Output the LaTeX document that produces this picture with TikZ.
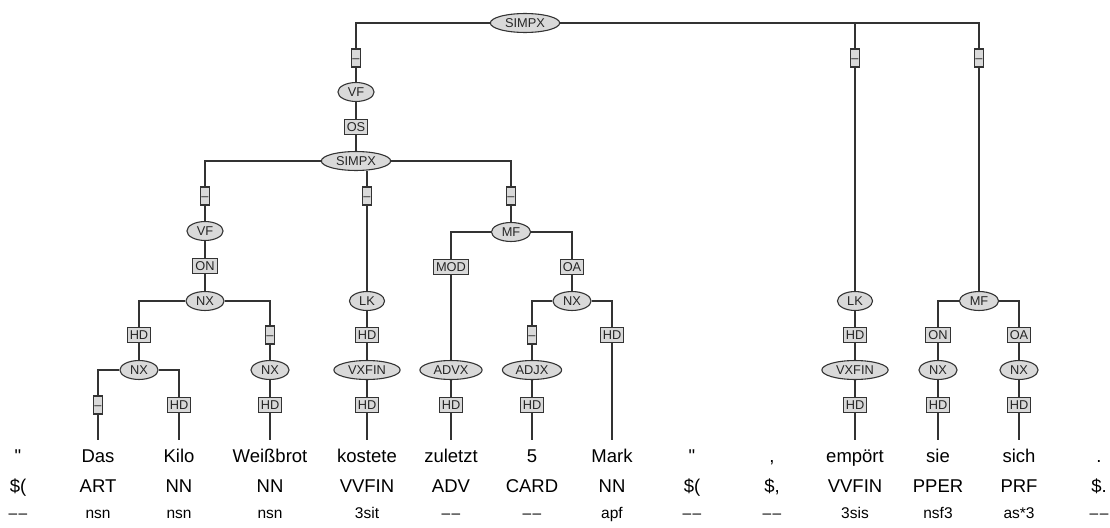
\documentclass[tikz,border=0pt]{standalone}
\usepackage{fontspec}
\setmainfont{Liberation Sans}
\usepackage{xcolor}
\usetikzlibrary{shapes.geometric}

\begin{document}
\begin{tikzpicture}
[x=1pt,y=-1pt,
catg/.style={ellipse,draw=black!80,fill=black!15,line width=1.1pt,inner xsep=4.6pt,inner ysep=2.2pt,minimum width=32pt,text height=9pt,text depth=0pt,font=\fontsize{12.8}{13}\selectfont,text=black!85},
func/.style={rectangle,draw=black!80,fill=black!15,line width=1.1pt,inner xsep=2.6pt,inner ysep=3.4pt,text height=9pt,text depth=0pt,font=\fontsize{12.8}{13}\selectfont,text=black!85},
fnil/.style={func,inner xsep=1.3pt,minimum height=18pt},
word/.style={anchor=base,inner sep=0pt,text height=13.4pt,text depth=4pt,font=\fontsize{18.5}{20}\selectfont},
morf/.style={anchor=base,inner sep=0pt,font=\fontsize{15.5}{16}\selectfont},
tree/.style={draw=black!80,line width=1.1pt},
wtic/.style={tree,shorten >=8.6pt}]

\useasboundingbox (0,0) rectangle (1110,527);

\node at (525,23)  [catg] (simpxa) {SIMPX};
\node at (356,58)  [fnil] (na1)    {\textendash};
\node at (356,92)  [catg] (vfa)    {VF};
\node at (356,127) [func] (osa)    {OS};
\node at (356,161) [catg] (simpxb) {SIMPX};
\node at (855,58)  [fnil] (na2)    {\textendash};
\node at (979,58)  [fnil] (na3)    {\textendash};

\node at (205,196) [fnil] (nb1)    {\textendash};
\node at (205,231) [catg] (vfb)    {VF};
\node at (205,266) [func] (onb)    {ON};
\node at (205,301) [catg] (nxa)    {NX};
\node at (139,335) [func] (hda)    {HD};
\node at (139,370) [catg] (nxb)    {NX};
\node at (98,405)  [fnil] (nc1)    {\textendash};
\node at (179,405) [func] (hdb)    {HD};
\node at (270,335) [fnil] (nc2)    {\textendash};
\node at (270,370) [catg] (nxc)    {NX};
\node at (270,405) [func] (hdc)    {HD};

\node at (367,196) [fnil] (nb2)    {\textendash};
\node at (367,301) [catg] (lka)    {LK};
\node at (367,335) [func] (hdd)    {HD};
\node at (367,370) [catg] (vxfina) {VXFIN};
\node at (367,405) [func] (hde)    {HD};

\node at (511,196) [fnil] (nb3)    {\textendash};
\node at (511,232) [catg] (mfa)    {MF};
\node at (451,267) [func] (moda)   {MOD};
\node at (451,370) [catg] (advxa)  {ADVX};
\node at (451,405) [func] (hdf)    {HD};
\node at (572,267) [func] (oaa)    {OA};
\node at (572,301) [catg] (nxd)    {NX};
\node at (532,335) [fnil] (nc3)    {\textendash};
\node at (532,370) [catg] (adjxa)  {ADJX};
\node at (532,405) [func] (hdg)    {HD};
\node at (612,335) [func] (hdh)    {HD};

\node at (855,301) [catg] (lkb)    {LK};
\node at (855,335) [func] (hdi)    {HD};
\node at (855,370) [catg] (vxfinb) {VXFIN};
\node at (855,405) [func] (hdj)    {HD};

\node at (979,301) [catg] (mfb)    {MF};
\node at (938,335) [func] (onc)    {ON};
\node at (938,370) [catg] (nxe)    {NX};
\node at (938,405) [func] (hdk)    {HD};
\node at (1019,335) [func] (oab)   {OA};
\node at (1019,370) [catg] (nxf)   {NX};
\node at (1019,405) [func] (hdl)   {HD};

\node at (18,462)   [word] (w1)  {\textquotedbl};
\node at (98,462)   [word] (w2)  {Das};
\node at (179,462)  [word] (w3)  {Kilo};
\node at (270,462)  [word] (w4)  {Weißbrot};
\node at (367,462)  [word] (w5)  {kostete};
\node at (451,462)  [word] (w6)  {zuletzt};
\node at (532,462)  [word] (w7)  {5};
\node at (612,462)  [word] (w8)  {Mark};
\node at (692,462)  [word] (w9)  {\textquotedbl};
\node at (772,462)  [word] (w10) {,};
\node at (855,462)  [word] (w11) {empört};
\node at (938,462)  [word] (w12) {sie};
\node at (1019,462) [word] (w13) {sich};
\node at (1099,462) [word] (w14) {.};

\node at (18,492)   [word] (p1)  {\$(};
\node at (98,492)   [word] (p2)  {ART};
\node at (179,492)  [word] (p3)  {NN};
\node at (270,492)  [word] (p4)  {NN};
\node at (367,492)  [word] (p5)  {VVFIN};
\node at (451,492)  [word] (p6)  {ADV};
\node at (532,492)  [word] (p7)  {CARD};
\node at (612,492)  [word] (p8)  {NN};
\node at (692,492)  [word] (p9)  {\$(};
\node at (772,492)  [word] (p10) {\$,};
\node at (855,492)  [word] (p11) {VVFIN};
\node at (938,492)  [word] (p12) {PPER};
\node at (1019,492) [word] (p13) {PRF};
\node at (1099,492) [word] (p14) {\$.};

\node at (18,518)   [morf] (m1)  {\textendash\kern1.5pt\textendash};
\node at (98,518)   [morf] (m2)  {nsn};
\node at (179,518)  [morf] (m3)  {nsn};
\node at (270,518)  [morf] (m4)  {nsn};
\node at (367,518)  [morf] (m5)  {3sit};
\node at (451,518)  [morf] (m6)  {\textendash\kern1.5pt\textendash};
\node at (532,518)  [morf] (m7)  {\textendash\kern1.5pt\textendash};
\node at (612,518)  [morf] (m8)  {apf};
\node at (692,518)  [morf] (m9)  {\textendash\kern1.5pt\textendash};
\node at (772,518)  [morf] (m10) {\textendash\kern1.5pt\textendash};
\node at (855,518)  [morf] (m11) {3sis};
\node at (938,518)  [morf] (m12) {nsf3};
\node at (1019,518) [morf] (m13) {as*3};
\node at (1099,518) [morf] (m14) {\textendash\kern1.5pt\textendash};

\draw [tree] (simpxa) -| (na1);
\draw [tree] (simpxa) -| (na2);
\draw [tree] (simpxa) -| (na3);
\draw [tree] (na1) -- (vfa) -- (osa) -- (simpxb);
\draw [tree] (simpxb) -| (nb1);
\draw [tree] (simpxb) -| (nb3);
\draw [tree] (nb2) -- (simpxb.south -| nb2);

\draw [tree] (nb1) -- (vfb) -- (onb) -- (nxa);
\draw [tree] (nxa) -| (hda);
\draw [tree] (nxa) -| (nc2);
\draw [tree] (hda) -- (nxb);
\draw [tree] (nxb) -| (nc1);
\draw [tree] (nxb) -| (hdb);
\draw [tree] (nc2) -- (nxc) -- (hdc);

\draw [tree] (nb2) -- (lka) -- (hdd) -- (vxfina) -- (hde);

\draw [tree] (nb3) -- (mfa);
\draw [tree] (mfa) -| (moda);
\draw [tree] (mfa) -| (oaa);
\draw [tree] (moda) -- (advxa) -- (hdf);
\draw [tree] (oaa) -- (nxd);
\draw [tree] (nxd) -| (nc3);
\draw [tree] (nxd) -| (hdh);
\draw [tree] (nc3) -- (adjxa) -- (hdg);

\draw [tree] (na2) -- (lkb) -- (hdi) -- (vxfinb) -- (hdj);
\draw [tree] (na3) -- (mfb);
\draw [tree] (mfb) -| (onc);
\draw [tree] (mfb) -| (oab);
\draw [tree] (onc) -- (nxe) -- (hdk);
\draw [tree] (oab) -- (nxf) -- (hdl);

\draw [wtic] (nc1) -- (w2);
\draw [wtic] (hdb) -- (w3);
\draw [wtic] (hdc) -- (w4);
\draw [wtic] (hde) -- (w5);
\draw [wtic] (hdf) -- (w6);
\draw [wtic] (hdg) -- (w7);
\draw [wtic] (hdh) -- (w8);
\draw [wtic] (hdj) -- (w11);
\draw [wtic] (hdk) -- (w12);
\draw [wtic] (hdl) -- (w13);
\end{tikzpicture}
\end{document}
